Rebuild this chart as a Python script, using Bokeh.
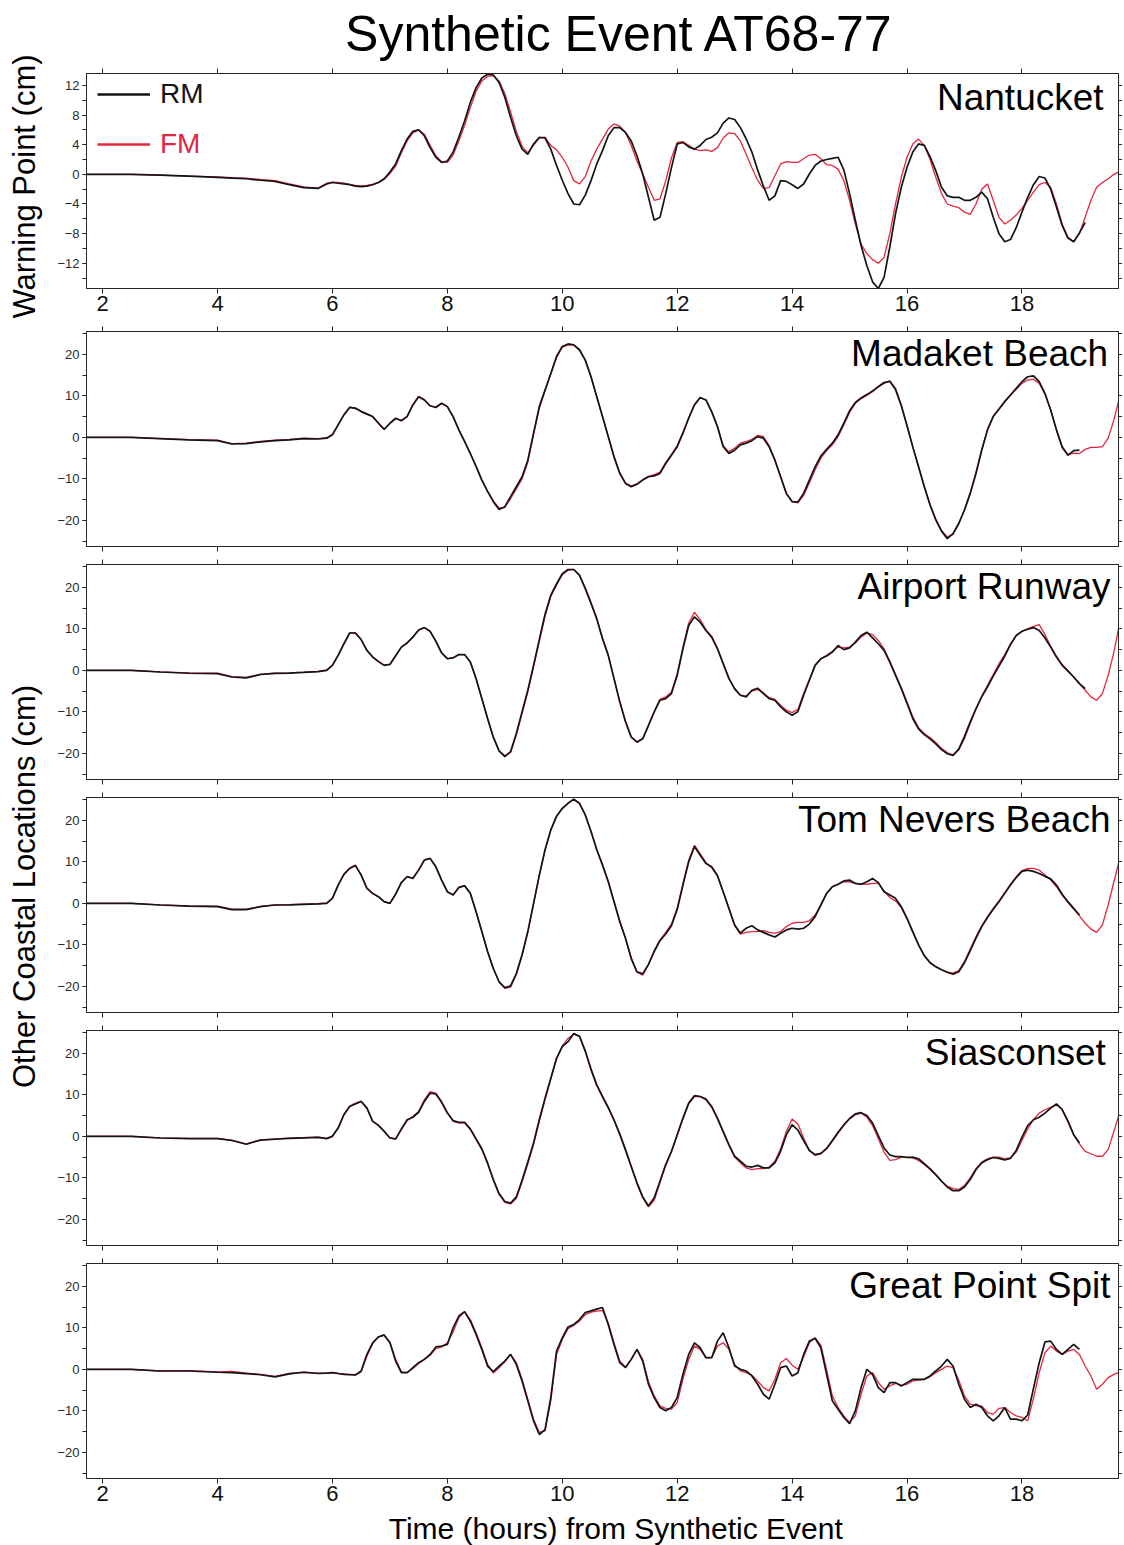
from math import pi
from bokeh.plotting import figure
from bokeh.layouts import row, column
from bokeh.models import Range1d, LinearAxis, FixedTicker, Label, Legend, LegendItem
from bokeh.embed import file_html
from bokeh.resources import INLINE

FONT = "Liberation Sans"
RM_COLOR = "#141414"
FM_COLOR = "#e3263f"
AX_COLOR = "#262626"

TITLE = "Synthetic Event AT68-77"
XLABEL = "Time (hours) from Synthetic Event"
YLABEL_TOP = "Warning Point (cm)"
YLABEL_OTHER = "Other Coastal Locations (cm)"
SERIES = ["RM", "FM"]
LOCATIONS = ["Nantucket", "Madaket Beach", "Airport Runway", "Tom Nevers Beach", "Siasconset", "Great Point Spit"]

X_TICKS = [2, 4, 6, 8, 10, 12, 14, 16, 18]
Y_TICKS_TOP = [-12, -8, -4, 0, 4, 8, 12]
Y_MINOR_TOP = [-14, -12, -10, -8, -6, -4, -2, 0, 2, 4, 6, 8, 10, 12]
Y_TICKS_OTHER = [-20, -10, 0, 10, 20]
Y_MINOR_OTHER = [-25, -20, -15, -10, -5, 0, 5, 10, 15, 20, 25]

# time (hours) of the readings
T = [1.72, 2.0, 2.5, 3.0, 3.5, 4.0, 4.25, 4.5, 4.75, 5.0, 5.25, 5.5, 5.75,
     5.9, 6.0, 6.1, 6.2, 6.3, 6.4, 6.5, 6.6, 6.7, 6.8,
     6.9, 7.0, 7.1, 7.2, 7.3, 7.4, 7.5, 7.6, 7.7, 7.8,
     7.9, 8.0, 8.1, 8.2, 8.3, 8.4, 8.5, 8.6, 8.7, 8.8,
     8.9, 9.0, 9.1, 9.2, 9.3, 9.4, 9.5, 9.6, 9.7, 9.8,
     9.9, 10.0, 10.1, 10.2, 10.3, 10.4, 10.5, 10.6, 10.7, 10.8,
     10.9, 11.0, 11.1, 11.2, 11.3, 11.4, 11.5, 11.6, 11.7, 11.8,
     11.9, 12.0, 12.1, 12.2, 12.3, 12.4, 12.5, 12.6, 12.7, 12.8,
     12.9, 13.0, 13.1, 13.2, 13.3, 13.4, 13.5, 13.6, 13.7, 13.8,
     13.9, 14.0, 14.1, 14.2, 14.3, 14.4, 14.5, 14.6, 14.7, 14.8,
     14.9, 15.0, 15.1, 15.2, 15.3, 15.4, 15.5, 15.6, 15.7, 15.8,
     15.9, 16.0, 16.1, 16.2, 16.3, 16.4, 16.5, 16.6, 16.7, 16.8,
     16.9, 17.0, 17.1, 17.2, 17.3, 17.4, 17.5, 17.6, 17.7, 17.8,
     17.9, 18.0, 18.1, 18.2, 18.3, 18.4, 18.5, 18.6, 18.7, 18.8,
     18.9, 19.0, 19.1, 19.2, 19.3, 19.4, 19.5, 19.6,
     19.68]

RM_NANTUCKET = [
    0.0, 0.0, 0.0, -0.1, -0.25, -0.4, -0.5, -0.6, -0.8, -0.95, -1.4, -1.8, -1.9,
    -1.3, -1.1, -1.2, -1.3, -1.4, -1.6, -1.65, -1.6, -1.4, -1.1,
    -0.6, 0.3, 1.4, 3.2, 4.75, 5.8, 6.0, 5.2, 3.6, 2.3,
    1.6, 1.8, 3.0, 5.0, 7.2, 9.7, 11.7, 13.0, 13.5, 13.4,
    12.4, 10.4, 7.7, 5.2, 3.4, 2.7, 4.1, 5.0, 4.9, 3.4,
    1.2, -0.8, -2.6, -4.0, -4.1, -2.8, -0.85, 1.4, 3.2, 5.2,
    6.3, 6.3, 5.65, 4.5, 2.5, 0.05, -3.1, -6.2, -5.8, -2.6,
    0.9, 4.1, 4.3, 3.7, 3.4, 3.9, 4.7, 5.0, 5.6, 6.9,
    7.6, 7.4, 6.3, 4.8, 3.0, 0.6, -1.6, -3.5, -2.9, -0.85,
    -0.95, -1.4, -1.9, -1.3, 0.05, 1.2, 1.8, 2.0, 2.15, 2.3,
    0.6, -2.6, -6.2, -9.6, -12.3, -14.5, -15.4, -13.9, -9.8, -5.3,
    -1.75, 0.95, 3.0, 4.1, 3.9, 2.4, 0.5, -1.75, -2.9, -3.1,
    -3.1, -3.5, -3.5, -3.1, -2.4, -3.3, -5.8, -8.0, -9.1, -8.8,
    -7.2, -5.1, -3.1, -1.4, -0.3, -0.5, -2.0, -4.4, -6.9, -8.6,
    -9.1, -7.9, -6.5,
]
FM_NANTUCKET = [
    0.0, 0.0, 0.0, -0.1, -0.25, -0.35, -0.45, -0.5, -0.7, -0.85, -1.3, -1.7, -1.85,
    -1.2, -1.05, -1.1, -1.2, -1.35, -1.5, -1.55, -1.5, -1.35, -1.1,
    -0.7, 0.1, 1.1, 2.9, 4.5, 5.6, 6.0, 5.4, 3.9, 2.5,
    1.7, 1.6, 2.6, 4.5, 6.6, 9.0, 11.2, 12.6, 13.2, 13.3,
    12.6, 10.9, 8.4, 5.8, 3.8, 2.9, 3.9, 4.9, 5.0, 3.9,
    3.3, 2.3, 0.95, -0.85, -1.3, -0.3, 1.8, 3.4, 4.75, 6.1,
    6.8, 6.5, 5.65, 3.9, 1.8, 0.05, -1.75, -3.5, -3.3, -0.9,
    2.2, 4.3, 4.4, 3.9, 3.4, 3.2, 3.3, 3.1, 3.6, 4.9,
    5.6, 5.5, 4.5, 2.7, 0.9, -0.8, -1.9, -1.8, -0.2, 1.4,
    1.7, 1.6, 1.6, 2.1, 2.6, 2.7, 2.1, 1.3, 1.2, 0.7,
    -0.85, -3.5, -6.7, -9.4, -10.7, -11.5, -12.0, -11.2, -8.0, -4.0,
    -0.4, 2.3, 4.1, 4.75, 3.9, 2.0, -0.4, -2.6, -4.0, -4.3,
    -4.5, -5.1, -5.4, -4.0, -2.0, -1.3, -3.5, -5.8, -6.7, -6.2,
    -5.5, -4.6, -3.5, -2.4, -1.4, -1.1, -1.75, -4.0, -6.7, -8.5,
    -9.1, -8.0, -5.8, -3.5, -1.75, -1.1, -0.6, 0.0,
    0.3,
]

RM_MADAKET = [
    0.0, 0.0, 0.0, -0.3, -0.6, -0.8, -1.6, -1.5, -1.1, -0.8, -0.6, -0.3, -0.4,
    -0.2, 0.6, 3.0, 5.4, 7.2, 7.0, 6.2, 5.6, 5.0, 3.4,
    1.9, 3.4, 4.6, 4.0, 5.0, 7.8, 9.8, 9.0, 7.6, 7.2,
    8.2, 7.4, 5.0, 1.8, -1.0, -3.9, -7.0, -10.3, -13.0, -15.5,
    -17.4, -16.7, -14.3, -11.9, -9.5, -5.5, 1.0, 7.4, 11.4, 15.4,
    19.5, 21.9, 22.5, 22.3, 21.1, 18.6, 14.6, 9.8, 5.0, 0.2,
    -4.7, -8.7, -11.1, -11.9, -11.3, -10.3, -9.5, -9.3, -8.7, -6.3,
    -4.3, -2.25, 1.0, 4.6, 7.8, 9.6, 9.0, 6.2, 2.6, -2.25,
    -3.9, -3.1, -1.8, -1.4, -0.8, 0.16, -0.2, -2.25, -5.5, -9.5,
    -13.5, -15.5, -15.6, -13.5, -10.3, -7.1, -4.5, -2.9, -1.4, 0.6,
    3.4, 6.4, 8.4, 9.5, 10.3, 11.2, 12.2, 13.2, 13.5, 11.5,
    7.6, 2.8, -2.3, -7.1, -11.9, -16.3, -19.9, -22.6, -24.4, -23.2,
    -20.7, -17.5, -13.5, -8.7, -3.1, 1.8, 5.0, 6.75, 8.6, 10.2,
    11.8, 13.4, 14.6, 14.8, 13.4, 10.6, 6.6, 1.8, -2.25, -4.3,
    -3.2, -3.1,
]
FM_MADAKET = [
    0.0, 0.0, 0.0, -0.3, -0.55, -0.7, -1.5, -1.4, -1.0, -0.7, -0.5, -0.2, -0.3,
    -0.1, 0.7, 3.1, 5.5, 7.3, 7.1, 6.3, 5.7, 5.0, 3.5,
    2.0, 3.3, 4.5, 4.1, 5.1, 7.9, 9.9, 9.1, 7.6, 7.3,
    8.2, 7.4, 5.0, 1.8, -1.0, -3.9, -7.0, -10.3, -13.0, -15.3,
    -17.0, -16.9, -14.8, -12.4, -10.0, -6.0, 0.6, 7.0, 11.2, 15.2,
    19.2, 21.7, 22.3, 22.2, 21.0, 18.6, 14.6, 9.8, 5.0, 0.2,
    -4.5, -8.5, -11.0, -11.7, -11.2, -10.2, -9.4, -9.0, -8.4, -6.1,
    -4.1, -2.0, 1.2, 4.8, 7.9, 9.6, 9.0, 6.2, 2.6, -2.0,
    -3.5, -2.6, -1.4, -1.0, -0.5, 0.5, 0.2, -2.0, -5.4, -9.5,
    -13.6, -15.4, -15.8, -14.0, -11.0, -7.8, -5.0, -3.2, -1.8, 0.2,
    3.0, 6.0, 8.2, 9.3, 10.1, 11.0, 12.2, 13.0, 13.6, 11.8,
    7.8, 2.8, -2.3, -7.0, -11.8, -16.1, -19.7, -22.4, -24.0, -23.4,
    -20.9, -17.4, -13.3, -8.4, -2.9, 1.9, 5.1, 6.9, 8.7, 10.1,
    11.6, 13.0, 13.8, 14.0, 13.0, 10.4, 6.6, 1.8, -2.6, -4.2,
    -3.8, -3.9, -2.9, -2.4, -2.4, -2.25, -0.2, 4.2,
    8.6,
]

RM_AIRPORT = [
    0.0, 0.0, 0.0, -0.4, -0.7, -0.8, -1.6, -1.8, -1.0, -0.75, -0.65, -0.5, -0.3,
    0.0, 1.2, 3.6, 6.4, 9.0, 9.0, 7.4, 4.8, 3.2, 2.1,
    1.2, 1.4, 3.5, 5.6, 6.6, 8.0, 9.7, 10.3, 9.4, 7.0,
    4.2, 2.8, 3.0, 3.8, 3.8, 2.0, -2.0, -6.8, -11.6, -16.1,
    -19.4, -20.8, -19.6, -15.2, -10.0, -4.8, 1.2, 7.4, 13.5, 18.1,
    20.8, 23.3, 24.3, 24.3, 22.9, 19.7, 16.1, 12.4, 7.6, 3.6,
    -2.0, -7.6, -12.4, -16.1, -17.3, -16.5, -13.3, -10.0, -7.2, -6.8,
    -5.6, -1.2, 5.2, 10.8, 12.9, 11.6, 9.6, 8.0, 5.2, 1.6,
    -2.0, -4.4, -6.0, -6.4, -4.8, -4.3, -5.6, -6.8, -7.2, -8.8,
    -10.0, -10.8, -10.0, -6.0, -2.4, 1.2, 2.8, 3.45, 4.4, 6.0,
    5.0, 5.4, 6.8, 8.4, 9.2, 7.8, 6.4, 4.8, 2.0, -1.2,
    -4.4, -8.0, -11.6, -14.1, -15.5, -16.5, -17.7, -19.1, -20.1, -20.5,
    -19.0, -15.9, -12.4, -9.2, -6.4, -4.0, -1.4, 1.0, 3.4, 6.2,
    8.4, 9.4, 9.9, 10.3, 9.6, 7.8, 5.6, 3.2, 1.2, -0.2,
    -1.6, -3.2, -4.4,
]
FM_AIRPORT = [
    0.0, 0.0, 0.0, -0.35, -0.6, -0.7, -1.5, -1.7, -0.9, -0.7, -0.6, -0.45, -0.25,
    0.1, 1.3, 3.7, 6.5, 9.0, 9.0, 7.4, 4.8, 3.3, 2.2,
    1.3, 1.5, 3.5, 5.6, 6.6, 8.0, 9.7, 10.3, 9.4, 7.0,
    4.2, 2.8, 3.0, 3.8, 3.8, 2.0, -2.0, -6.8, -11.6, -16.1,
    -19.4, -20.6, -19.8, -15.6, -10.4, -5.2, 0.8, 7.0, 13.0, 17.8,
    20.6, 23.0, 24.1, 24.3, 23.0, 19.9, 16.4, 12.6, 7.8, 3.8,
    -1.8, -7.4, -12.2, -16.0, -17.2, -16.4, -13.2, -10.0, -7.0, -6.4,
    -5.2, -0.8, 5.6, 11.4, 14.0, 12.2, 9.8, 8.2, 5.4, 1.8,
    -1.8, -4.6, -6.0, -6.2, -5.0, -4.6, -5.4, -6.6, -7.0, -8.4,
    -9.6, -10.2, -9.4, -5.6, -2.2, 1.2, 2.8, 3.6, 4.6, 5.6,
    5.4, 5.6, 6.6, 8.0, 9.0, 8.6, 7.2, 5.2, 2.2, -1.0,
    -4.2, -7.6, -11.2, -13.8, -15.2, -16.2, -17.4, -18.8, -19.8, -20.4,
    -19.2, -16.4, -12.8, -9.4, -6.2, -3.6, -1.0, 1.6, 3.8, 6.4,
    8.4, 9.4, 10.0, 10.6, 11.0, 8.6, 5.8, 3.4, 1.4, 0.0,
    -1.6, -3.2, -4.8, -6.4, -7.2, -5.6, -1.2, 4.4,
    10.0,
]

RM_TOMNEVERS = [
    0.0, 0.0, 0.0, -0.4, -0.65, -0.8, -1.5, -1.5, -0.8, -0.4, -0.35, -0.25, -0.15,
    0.0, 1.2, 4.4, 7.0, 8.4, 9.1, 6.8, 3.6, 2.4, 1.6,
    0.4, 0.0, 2.2, 5.0, 6.4, 6.0, 8.0, 10.4, 10.8, 8.8,
    5.6, 2.8, 2.0, 3.8, 4.25, 2.4, -2.0, -6.8, -11.6, -15.7,
    -18.9, -20.3, -19.9, -16.9, -12.4, -6.8, 0.0, 6.8, 12.9, 17.7,
    21.0, 22.9, 24.1, 25.1, 24.1, 21.3, 17.3, 12.9, 9.2, 5.2,
    0.4, -4.4, -8.4, -13.3, -16.5, -17.0, -14.7, -11.6, -9.0, -7.4,
    -5.4, -1.5, 4.4, 10.0, 13.7, 11.6, 9.6, 8.8, 6.7, 2.8,
    -1.2, -5.2, -7.2, -6.0, -5.4, -6.4, -7.0, -7.6, -8.1, -7.2,
    -6.4, -6.0, -6.2, -6.0, -5.0, -3.2, -0.4, 2.4, 4.0, 4.6,
    5.4, 5.6, 4.8, 4.6, 5.2, 6.0, 5.0, 2.8, 2.0, 1.2,
    -0.8, -3.6, -6.8, -10.0, -12.6, -14.3, -15.3, -16.0, -16.6, -17.1,
    -16.5, -14.3, -11.4, -8.4, -5.6, -3.4, -1.4, 0.4, 2.4, 4.4,
    6.2, 7.7, 8.0, 7.7, 7.2, 6.5, 5.9, 4.4, 2.2, 0.4,
    -1.2, -2.8,
]
FM_TOMNEVERS = [
    0.0, 0.0, 0.0, -0.35, -0.6, -0.7, -1.4, -1.4, -0.75, -0.35, -0.3, -0.2, -0.1,
    0.1, 1.3, 4.4, 7.0, 8.5, 9.2, 6.9, 3.7, 2.4, 1.6,
    0.4, 0.0, 2.3, 5.1, 6.5, 6.1, 8.1, 10.5, 10.9, 8.8,
    5.6, 2.8, 2.0, 3.9, 4.3, 2.4, -2.0, -6.8, -11.6, -15.7,
    -18.9, -20.5, -20.2, -17.2, -12.6, -7.0, -0.2, 6.6, 12.8, 17.6,
    20.9, 22.8, 24.1, 25.0, 24.0, 21.4, 17.4, 13.0, 9.4, 5.4,
    0.6, -4.2, -8.4, -13.1, -16.6, -17.3, -14.8, -11.4, -8.8, -7.0,
    -5.0, -1.2, 4.8, 10.4, 14.0, 12.0, 9.8, 8.6, 6.6, 2.8,
    -1.4, -5.4, -7.4, -7.0, -6.8, -6.8, -6.6, -7.0, -7.2, -6.8,
    -5.6, -4.8, -4.6, -4.6, -4.2, -2.8, -0.4, 2.4, 4.0, 4.6,
    5.2, 5.2, 4.8, 4.6, 4.6, 4.8, 4.8, 3.0, 1.4, 0.6,
    -1.0, -3.8, -7.0, -10.0, -12.6, -14.2, -15.2, -16.0, -16.6, -16.8,
    -16.2, -14.0, -11.0, -8.0, -5.4, -3.2, -1.2, 0.6, 2.6, 4.6,
    6.4, 7.9, 8.4, 8.4, 8.0, 6.8, 5.6, 4.0, 2.0, 0.2,
    -1.4, -3.0, -4.8, -6.2, -7.0, -5.2, -0.4, 5.2,
    9.6,
]

RM_SIASCONSET = [
    0.0, 0.0, 0.0, -0.4, -0.55, -0.55, -1.0, -1.9, -0.9, -0.7, -0.5, -0.35, -0.25,
    -0.55, 0.0, 2.0, 5.2, 7.2, 7.8, 8.4, 6.8, 3.6, 2.65,
    1.2, -0.4, -0.6, 1.8, 4.0, 4.6, 5.8, 8.4, 10.4, 10.2,
    8.2, 5.6, 3.8, 3.4, 3.4, 1.8, -0.6, -3.0, -6.4, -10.4,
    -13.8, -15.7, -16.1, -14.6, -10.6, -6.2, -1.6, 4.0, 9.2, 14.0,
    18.8, 21.6, 22.8, 24.8, 24.1, 20.6, 16.2, 12.4, 9.6, 7.0,
    4.0, 0.6, -3.2, -7.2, -11.2, -14.6, -16.8, -14.8, -10.8, -6.8,
    -3.6, 0.4, 4.4, 8.0, 9.8, 9.6, 9.0, 7.2, 4.4, 1.2,
    -2.0, -4.8, -6.0, -7.2, -7.4, -7.0, -7.6, -7.6, -6.4, -3.6,
    0.4, 2.8, 1.5, -1.0, -3.4, -4.4, -4.1, -2.9, -1.0, 1.0,
    2.8, 4.3, 5.4, 5.7, 5.0, 3.2, 0.2, -2.8, -4.5, -4.9,
    -4.9, -5.1, -5.0, -5.4, -6.6, -7.8, -9.2, -10.8, -12.2, -13.1,
    -13.1, -12.2, -10.4, -8.0, -6.4, -5.6, -5.1, -5.3, -5.7, -5.3,
    -3.4, -0.2, 2.6, 4.0, 4.6, 5.6, 6.8, 7.8, 6.4, 3.6,
    0.4, -1.6,
]
FM_SIASCONSET = [
    0.0, 0.0, 0.0, -0.35, -0.5, -0.5, -0.9, -1.8, -0.85, -0.6, -0.45, -0.3, -0.2,
    -0.5, 0.1, 2.1, 5.3, 7.3, 8.0, 8.5, 6.9, 3.7, 2.7,
    1.3, -0.3, -0.7, 1.6, 3.8, 4.8, 6.0, 8.8, 10.8, 10.4,
    8.4, 5.8, 3.6, 3.2, 3.2, 1.6, -0.8, -3.2, -6.6, -10.6,
    -14.0, -15.9, -16.3, -15.0, -11.0, -6.6, -2.0, 3.6, 8.8, 13.8,
    18.6, 21.8, 23.6, 24.6, 24.0, 20.4, 16.0, 12.2, 9.4, 6.8,
    3.8, 0.4, -3.4, -7.4, -11.4, -14.8, -17.0, -15.4, -11.2, -7.0,
    -3.8, 0.2, 4.2, 7.8, 9.6, 9.6, 8.8, 7.0, 4.2, 1.0,
    -2.2, -5.0, -6.4, -7.6, -8.0, -7.8, -7.8, -7.4, -6.0, -3.0,
    1.2, 4.2, 3.0, -0.4, -3.4, -4.6, -4.2, -3.0, -1.2, 0.8,
    2.6, 4.2, 5.2, 5.6, 4.6, 2.6, -0.6, -3.8, -5.8, -5.6,
    -5.0, -5.0, -5.2, -5.8, -6.8, -8.0, -9.4, -10.8, -12.0, -12.6,
    -12.8, -11.8, -10.0, -7.8, -6.2, -5.4, -5.0, -5.0, -5.4, -5.2,
    -3.8, -1.0, 1.8, 4.0, 5.6, 6.4, 7.0, 7.6, 6.6, 3.8,
    0.4, -1.8, -3.6, -4.2, -4.8, -4.8, -3.2, 1.2,
    4.8,
]

RM_GREATPOINT = [
    0.0, 0.0, 0.0, -0.4, -0.4, -0.7, -0.8, -1.05, -1.3, -1.8, -1.1, -0.7, -1.0,
    -0.9, -0.8, -1.0, -1.2, -1.3, -1.35, -0.4, 3.6, 6.4, 7.8,
    8.3, 6.4, 2.0, -0.8, -0.8, 0.4, 1.6, 2.4, 3.6, 5.4,
    5.6, 6.0, 10.0, 12.85, 13.9, 11.6, 8.4, 4.8, 0.8, -0.55,
    0.8, 2.0, 3.6, 1.2, -2.8, -7.6, -12.4, -15.7, -14.5, -6.8,
    4.4, 7.6, 10.2, 10.8, 12.0, 13.7, 14.1, 14.5, 14.9, 10.8,
    6.0, 1.6, 0.4, 2.4, 4.8, 2.0, -3.6, -6.8, -9.2, -10.0,
    -9.2, -6.8, -1.2, 3.6, 6.4, 5.2, 2.8, 2.8, 6.8, 8.8,
    5.2, 0.8, 0.0, -0.4, -1.6, -3.6, -6.0, -7.2, -3.6, 0.4,
    0.8, -1.6, -0.8, 3.6, 6.8, 7.5, 5.2, -1.2, -7.6, -9.6,
    -11.6, -13.1, -10.0, -4.4, 0.0, -1.2, -4.4, -5.6, -3.2, -3.2,
    -4.0, -3.2, -2.4, -2.4, -2.4, -1.6, -0.4, 0.8, 2.4, 0.8,
    -3.6, -7.2, -9.2, -8.4, -9.2, -11.2, -12.4, -11.2, -9.2, -12.0,
    -12.0, -12.4, -11.0, -4.6, 1.6, 6.6, 6.8, 4.8, 3.6, 4.8,
    6.0, 4.8,
]
FM_GREATPOINT = [
    0.0, 0.0, 0.0, -0.4, -0.3, -0.6, -0.5, -0.9, -1.2, -1.7, -1.0, -0.7, -0.9,
    -0.9, -0.8, -1.0, -1.1, -1.2, -1.3, -0.6, 3.2, 6.2, 7.8,
    8.2, 6.6, 2.4, -0.6, -0.8, 0.2, 1.4, 2.4, 3.4, 5.0,
    5.4, 6.4, 9.0, 12.4, 13.9, 12.0, 8.8, 5.2, 1.2, -0.9,
    0.4, 1.8, 3.6, 1.6, -2.4, -7.2, -12.0, -15.2, -14.8, -7.6,
    3.6, 7.2, 9.8, 10.6, 11.6, 13.2, 13.8, 14.0, 14.2, 11.2,
    6.4, 2.0, 0.6, 2.4, 4.8, 2.4, -3.0, -6.4, -8.8, -9.4,
    -9.6, -8.0, -2.4, 2.4, 5.6, 4.8, 2.8, 2.8, 5.6, 6.4,
    4.8, 1.2, -0.4, -0.8, -1.4, -2.8, -4.4, -5.2, -2.4, 1.6,
    2.6, 1.0, 0.0, 3.0, 6.4, 7.6, 5.8, 0.0, -6.4, -9.2,
    -11.2, -12.8, -11.2, -6.0, -1.6, -0.8, -3.2, -4.8, -4.0, -3.4,
    -3.8, -3.6, -2.8, -2.6, -2.4, -1.8, -0.8, 0.0, 0.8, 0.4,
    -2.6, -6.4, -8.4, -8.8, -8.8, -10.4, -10.8, -9.4, -9.2, -10.4,
    -11.2, -11.6, -12.4, -7.0, -0.8, 4.0, 5.6, 4.4, 3.6, 4.4,
    4.8, 3.6, 0.8, -1.6, -4.8, -3.6, -2.0, -1.2,
    -0.8,
]

RM_SERIES = [RM_NANTUCKET, RM_MADAKET, RM_AIRPORT, RM_TOMNEVERS, RM_SIASCONSET, RM_GREATPOINT]
FM_SERIES = [FM_NANTUCKET, FM_MADAKET, FM_AIRPORT, FM_TOMNEVERS, FM_SIASCONSET, FM_GREATPOINT]
for s in FM_SERIES:
    assert len(s) == len(T), len(s)
for s in RM_SERIES:
    assert len(s) <= len(T), len(s)

X_RANGE = (1.72, 19.68)
Y_RANGE_TOP = (-15.4, 13.6)
Y_RANGE_OTHER = (-26.3, 25.5)

# layout geometry (pixels)
SIDE_W = 48          # strip holding the vertical titles
PANEL_W = 1074       # width of each panel figure
BORDER_L, BORDER_R = 38, 4
TITLE_H = 62
XLABEL_H = 34
# (height, top border, bottom border) of each panel figure
GEOM = [(262, 11, 36), (231, 7, 9), (233, 9, 9), (233, 9, 9), (233, 9, 9), (257, 9, 33)]
TOTAL_H = TITLE_H + sum(g[0] for g in GEOM) + XLABEL_H
NAME_X = [19.42, 19.5, 19.54, 19.54, 19.46, 19.54]


def minus(v):
    return ("\u2212" + str(abs(v))) if v < 0 else str(v)


def style_axis(ax):
    ax.axis_line_color = AX_COLOR
    ax.major_tick_line_color = AX_COLOR
    ax.minor_tick_line_color = AX_COLOR
    ax.major_tick_in = 0
    ax.minor_tick_in = 0
    ax.major_tick_out = 5
    ax.minor_tick_out = 5


def tick_only_axis(ticks, length=5):
    ax = LinearAxis(ticker=FixedTicker(ticks=[], minor_ticks=ticks))
    style_axis(ax)
    ax.minor_tick_out = length
    ax.major_label_standoff = 0
    return ax


def blank_fig(w, h, x_range, left=0, right=0):
    f = figure(width=w, height=h, x_range=Range1d(*x_range), y_range=Range1d(0, h),
               output_backend="svg", toolbar_location=None, tools="",
               x_axis_location=None, y_axis_location=None,
               min_border_left=left, min_border_right=right,
               min_border_top=0, min_border_bottom=0)
    f.xgrid.visible = False
    f.ygrid.visible = False
    f.outline_line_color = None
    return f


def make_panel(i):
    height, top, bottom = GEOM[i]
    top_panel = i == 0
    yr = Y_RANGE_TOP if top_panel else Y_RANGE_OTHER
    majors = Y_TICKS_TOP if top_panel else Y_TICKS_OTHER
    minors = Y_MINOR_TOP if top_panel else Y_MINOR_OTHER
    p = figure(width=PANEL_W, height=height,
               x_range=Range1d(*X_RANGE), y_range=Range1d(*yr),
               output_backend="svg", toolbar_location=None, tools="",
               x_axis_location=None, y_axis_location=None,
               min_border_left=BORDER_L, min_border_right=BORDER_R,
               min_border_top=top, min_border_bottom=bottom)
    p.xgrid.visible = False
    p.ygrid.visible = False
    p.outline_line_color = AX_COLOR
    p.background_fill_color = "white"
    p.border_fill_color = "white"

    if i in (0, 5):
        xb = LinearAxis(ticker=FixedTicker(ticks=X_TICKS, minor_ticks=[]))
        style_axis(xb)
        xb.major_label_text_font = FONT
        xb.major_label_text_font_size = "22px"
        xb.major_label_text_color = "#111111"
        xb.major_label_standoff = 2
    else:
        xb = tick_only_axis(X_TICKS)
    p.add_layout(xb, "below")
    p.add_layout(tick_only_axis(X_TICKS), "above")

    yl = LinearAxis(ticker=FixedTicker(ticks=majors, minor_ticks=minors))
    style_axis(yl)
    yl.major_tick_out = 4
    yl.minor_tick_out = 4
    yl.major_label_text_font = FONT
    yl.major_label_text_font_size = "13px"
    yl.major_label_text_color = "#2a2a2a"
    yl.major_label_standoff = 3
    yl.major_label_overrides = {v: minus(v) for v in majors}
    p.add_layout(yl, "left")
    p.add_layout(tick_only_axis(minors, 4), "right")

    fm = FM_SERIES[i]
    rm = RM_SERIES[i]
    p.line(T, fm, line_color=FM_COLOR, line_width=1.3)
    p.line(T[:len(rm)], rm, line_color=RM_COLOR, line_width=1.7)

    label_y = 10.3 if top_panel else 20.3
    p.add_layout(Label(x=NAME_X[i], y=label_y, text=LOCATIONS[i], text_align="right",
                       text_baseline="middle", text_font=FONT, text_font_size="37px",
                       text_color="#000000"))
    return p


figs = [make_panel(i) for i in range(6)]

# legend of the top panel (two one-item legends so each label keeps its colour);
# the keys are drawn from renderers without data so the key lines can be thicker
p1 = figs[0]
NAN = float("nan")
key_rm = p1.line(x=[NAN], y=[NAN], line_color=RM_COLOR, line_width=2.6)
key_fm = p1.line(x=[NAN], y=[NAN], line_color=FM_COLOR, line_width=2.4)
for name, rend, color, loc in [(SERIES[0], key_rm, RM_COLOR, (11, 178)),
                               (SERIES[1], key_fm, FM_COLOR, (11, 128))]:
    leg = Legend(items=[LegendItem(label=name, renderers=[rend])], location=loc,
                 label_text_font=FONT, label_text_font_size="28px", label_text_color=color,
                 glyph_width=53, glyph_height=32, label_height=32, label_standoff=10,
                 padding=0, margin=0, border_line_color=None, background_fill_alpha=0)
    p1.add_layout(leg)

# title strip, frame aligned with the panels, text placed on the time scale
title_fig = blank_fig(PANEL_W, TITLE_H, X_RANGE, BORDER_L, BORDER_R)
title_fig.add_layout(Label(x=11.0, y=TITLE_H - 33, text=TITLE, text_align="center", text_baseline="middle",
                           text_font=FONT, text_font_size="50px", text_color="#000000"))

# x-axis title strip
xlabel_fig = blank_fig(PANEL_W, XLABEL_H, X_RANGE, BORDER_L, BORDER_R)
xlabel_fig.add_layout(Label(x=10.93, y=XLABEL_H / 2, text=XLABEL, text_align="center", text_baseline="middle",
                            text_font=FONT, text_font_size="30px", text_color="#000000"))

# side strip holding the vertical axis titles
side = blank_fig(SIDE_W, TOTAL_H, (0, SIDE_W))
side.add_layout(Label(x=24, y=TOTAL_H - 186, text=YLABEL_TOP, angle=pi / 2, text_align="center",
                      text_baseline="middle", text_font=FONT, text_font_size="31px", text_color="#000000"))
side.add_layout(Label(x=24, y=TOTAL_H - 886, text=YLABEL_OTHER, angle=pi / 2, text_align="center",
                      text_baseline="middle", text_font=FONT, text_font_size="31px", text_color="#000000"))

root = row(side, column(title_fig, *figs, xlabel_fig))
open("out.html", "w").write(file_html(root, INLINE, title=TITLE))
